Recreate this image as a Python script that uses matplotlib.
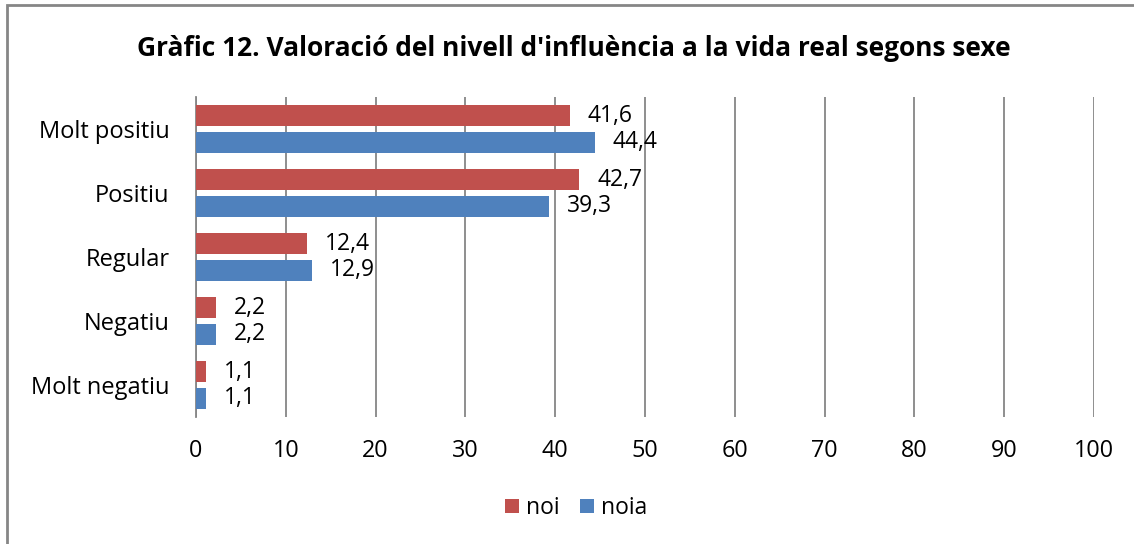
import matplotlib
matplotlib.use("Agg")
import matplotlib.pyplot as plt
from matplotlib.patches import Rectangle

plt.rcParams["font.family"] = ["Open Sans", "DejaVu Sans"]

# Dades
categories = ["Molt positiu", "Positiu", "Regular", "Negatiu", "Molt negatiu"]
noi = [41.6, 42.7, 12.4, 2.2, 1.1]
noia = [44.4, 39.3, 12.9, 2.2, 1.1]
series_names = ["noi", "noia"]
xticks = [0, 10, 20, 30, 40, 50, 60, 70, 80, 90, 100]

RED = "#C0504D"
BLUE = "#4F81BD"
GRID = "#868686"

fig = plt.figure(figsize=(11.34, 5.44), dpi=100)
ax = fig.add_axes([196 / 1134, 1 - 417 / 544, 898 / 1134, 320 / 544])

# marc del gràfic (només es veuen esquerra i dalt)
fig.patches.append(Rectangle((7 / 1134, -0.1), 1.2, 1 - 5 / 544 + 0.1,
                             transform=fig.transFigure, fill=False,
                             edgecolor=GRID, linewidth=2))

y = list(range(len(categories)))
h = 0.33
off = 0.205
b1 = ax.barh([v - off for v in y], noi, height=h, color=RED, label=series_names[0], zorder=3)
b2 = ax.barh([v + off for v in y], noia, height=h, color=BLUE, label=series_names[1], zorder=3)

for bars, vals in [(b1, noi), (b2, noia)]:
    for bar, v in zip(bars, vals):
        ax.annotate(f"{v:.1f}".replace(".", ","),
                    (bar.get_width(), bar.get_y() + bar.get_height() / 2),
                    xytext=(13, 0), textcoords="offset points",
                    ha="left", va="center", fontsize=16.5, zorder=4)

ax.set_xlim(0, 100)
ax.set_ylim(4.5, -0.5)
ax.set_xticks(xticks)
ax.set_xticklabels([str(t) for t in xticks])
ax.set_yticks(y)
ax.set_yticklabels(categories)
ax.tick_params(axis="x", length=0, pad=16, labelsize=16.8)
ax.tick_params(axis="y", length=0, pad=19, labelsize=17)
ax.grid(axis="x", color=GRID, linewidth=1.3, zorder=0)
for s in ["top", "right", "bottom"]:
    ax.spines[s].set_visible(False)
ax.spines["left"].set_color(GRID)
ax.spines["left"].set_linewidth(1.3)

fig.text(0.506, 1 - 48 / 544,
         "Gràfic 12. Valoració del nivell d'influència a la vida real segons sexe",
         ha="center", va="center", fontsize=19, fontweight="bold")

fig.legend(handles=[b1, b2], labels=series_names, loc="center",
           bbox_to_anchor=(576 / 1134, 1 - 508 / 544), ncol=2, frameon=False,
           fontsize=16.5, handlelength=0.6, handleheight=0.6, handletextpad=0.3,
           columnspacing=0.9)

fig.savefig("out.png", dpi=100)
